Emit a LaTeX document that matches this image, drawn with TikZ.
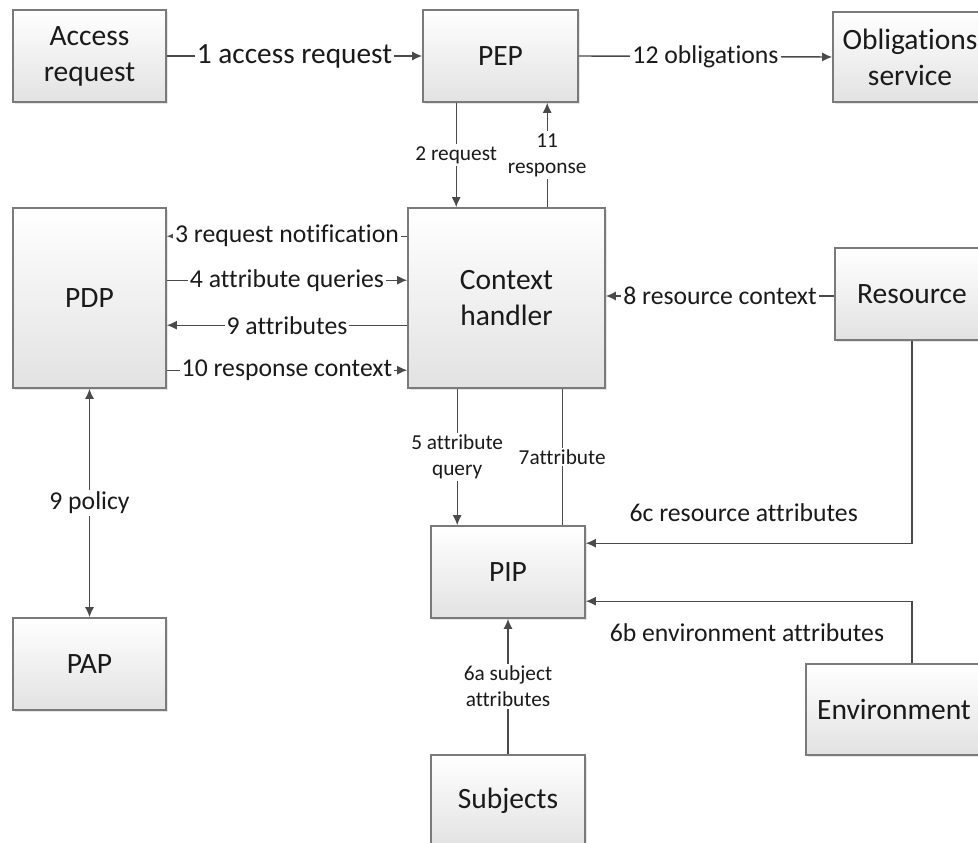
\documentclass[tikz,border=0pt]{standalone}
\usepackage{fontspec}
\setmainfont[Ligatures=NoCommon]{Carlito}
\usetikzlibrary{arrows.meta,shadows}
\definecolor{boxline}{HTML}{7A7A7A}
\definecolor{boxfill}{HTML}{E2E2E2}
\definecolor{linecol}{HTML}{4A4A4A}
\definecolor{txt}{HTML}{1A1A1A}

\begin{document}
\begin{tikzpicture}[x=1pt, y=-1pt, >={Latex[length=10pt,width=9pt]},
  box/.style={draw=boxline, line width=1.6pt, top color=white, bottom color=boxfill,
    drop shadow={shadow xshift=2pt, shadow yshift=-2pt, opacity=0.2},
    align=center, inner sep=0pt, text=txt, font=\fontsize{29.5}{36}\selectfont},
  link/.style={draw=linecol, line width=1.4pt},
  lbl/.style={fill=white, inner sep=2pt, text=txt, font=\fontsize{25.7}{31}\selectfont},
  slbl/.style={fill=white, inner sep=2pt, align=center, text=txt, font=\fontsize{21.3}{26}\selectfont}]

\useasboundingbox (0,0) rectangle (978,843);
\clip (0,0) rectangle (978,843);

% Boxes
\node[box, minimum width=153pt, minimum height=92pt] (access) at (89.5,56) {Access\\request};
\node[box, minimum width=155pt, minimum height=92pt] (pep) at (500.5,56) {PEP};
\node[box, minimum width=154pt, minimum height=90pt] (obl) at (910,57) {Obligations\\service};
\node[box, minimum width=153pt, minimum height=180pt] (pdp) at (89.5,298) {PDP};
\node[box, minimum width=197pt, minimum height=180pt] (ch) at (506.5,298) {Context\\handler};
\node[box, minimum width=154pt, minimum height=92pt] (res) at (912,294) {Resource};
\node[box, minimum width=154pt, minimum height=92pt] (pip) at (508,572) {PIP};
\node[box, minimum width=153pt, minimum height=92pt] (pap) at (89.5,664) {PAP};
\node[box, minimum width=176pt, minimum height=91pt] (env) at (894,709.5) {Environment};
\node[box, minimum width=154pt, minimum height=92pt] (subj) at (508,801) {Subjects};

% Top row
\draw[link, ->] (access.east) -- node[lbl, font=\fontsize{29.3}{35}\selectfont] {1 access request} (pep.west);
\draw[link, ->] (pep.east) -- node[lbl] {12 obligations} (obl.west);

% PEP and context handler
\draw[link, ->] ([xshift=34pt]pep.south west) -- node[slbl] {2 request}
  ([xshift=34pt]pep.south west |- ch.north);
\draw[link, ->] ([xshift=140pt]ch.north west) -- node[slbl] {11\\response}
  ([xshift=140pt]ch.north west |- pep.south);

% PDP and context handler
\draw[link, <-] ([yshift=-29pt]pdp.north east) -- node[lbl] {3 request notification}
  ([yshift=-29pt]pdp.north east -| ch.west);
\draw[link, ->] ([yshift=-73pt]pdp.north east) -- node[lbl] {4 attribute queries}
  ([yshift=-73pt]pdp.north east -| ch.west);
\draw[link, <-] ([yshift=-118pt]pdp.north east) -- node[lbl] {9 attributes}
  ([yshift=-118pt]pdp.north east -| ch.west);
\draw[link, ->] ([yshift=-163pt]pdp.north east) -- node[lbl] {10 response context}
  ([yshift=-163pt]pdp.north east -| ch.west);

% Resource context
\draw[link, ->] ([yshift=-2pt]res.west) -- node[lbl] {8 resource context}
  ([yshift=-2pt]res.west -| ch.east);

% Policy
\draw[link, <->] (pdp.south) -- node[lbl] {9 policy} (pap.north);

% Context handler and PIP
\draw[link, ->] ([xshift=50pt]ch.south west) -- node[slbl] {5 attribute\\query}
  ([xshift=50pt]ch.south west |- pip.north);
\draw[link] ([xshift=155pt]ch.south west) -- node[slbl] {7attribute}
  ([xshift=155pt]ch.south west |- pip.north);

% Attribute sources
\draw[link, ->] (res.south) |- node[pos=0.758, above=19pt, lbl, fill=none] {6c resource attributes}
  ([yshift=-18pt]pip.north east);
\draw[link, ->] (env.north -| res.south) |- node[pos=0.753, below=20pt, lbl, fill=none] {6b environment attributes}
  ([yshift=-76pt]pip.north east);
\draw[link, ->] (subj.north) -- node[slbl] {6a subject\\attributes} (pip.south);

\end{tikzpicture}
\end{document}
